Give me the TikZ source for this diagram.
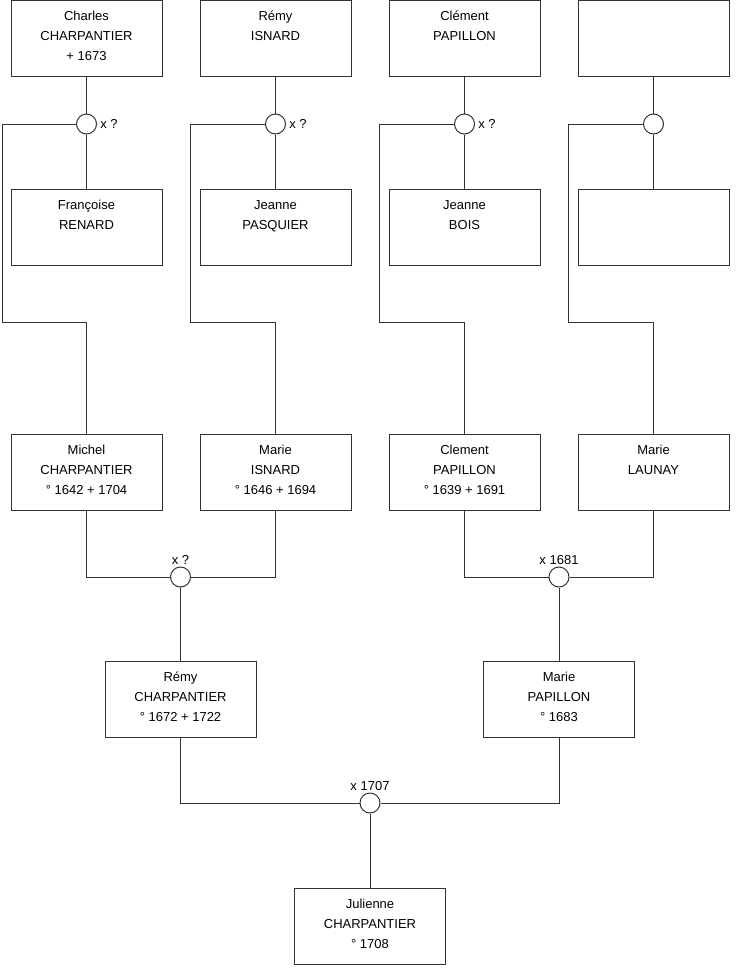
\documentclass[tikz,border=0pt]{standalone}
\usepackage{fontspec}
\setmainfont{Liberation Sans}
\usetikzlibrary{calc, positioning}

\begin{document}
\begin{tikzpicture}[x=0.75pt, y=-0.75pt,
  every node/.style={font=\fontsize{9.75pt}{15pt}\selectfont},
  indiv/.style={draw=black!80, line width=0.75pt, fill=white, inner sep=0pt,
    minimum width=113.25pt, minimum height=57pt},
  indivtxt/.style={anchor=base, inner sep=0pt},
  wed/.style={draw=black!80, line width=0.75pt, circle, fill=white, inner sep=0pt, minimum size=15pt},
  wedtxt/.style={inner sep=0pt},
  lien/.style={draw=black!80, line width=0.75pt}
]
\useasboundingbox (0,0) rectangle (740,975);
\def\ca{86.5} \def\cb{275.5} \def\cc{464.5} \def\cd{653.5}
% individus
\foreach \n/\x/\y/\t in {
  ch/\ca/38/{Charles\\CHARPANTIER\\+ 1673},
  ri/\cb/38/{Rémy\\ISNARD},
  cp/\cc/38/{Clément\\PAPILLON},
  fr/\ca/227/{Françoise\\RENARD},
  jp/\cb/227/{Jeanne\\PASQUIER},
  jb/\cc/227/{Jeanne\\BOIS},
  mc/\ca/472.5/{Michel\\CHARPANTIER\\° 1642 + 1704},
  mi/\cb/472.5/{Marie\\ISNARD\\° 1646 + 1694},
  clp/\cc/472.5/{Clement\\PAPILLON\\° 1639 + 1691},
  ml/\cd/472.5/{Marie\\LAUNAY},
  rc/180.5/699.5/{Rémy\\CHARPANTIER\\° 1672 + 1722},
  mp/559/699.5/{Marie\\PAPILLON\\° 1683},
  jc/370/926/{Julienne\\CHARPANTIER\\° 1708}}{
  \node[indiv] (\n) at (\x,\y) {};
  \node[indivtxt] (\n-t) at ($(\n.north)+(0,20.5)$)
    {\begin{tabular}[t]{@{}c@{}}\t\end{tabular}};
}
\node[indiv] (e1) at (\cd,38) {};
\node[indiv] (e2) at (\cd,227) {};
% unions
\node[wed] (w1) at (\ca,124) {};
\node[wed] (w2) at (\cb,124) {};
\node[wed] (w3) at (\cc,124) {};
\node[wed] (w4) at (\cd,124) {};
\node[wed] (w5) at (180.5,577) {};
\node[wed] (w6) at (559,577) {};
\node[wed] (w7) at (370,803) {};
\node[wedtxt, right=2.25pt of w1] (w1-t) {x ?};
\node[wedtxt, right=2.25pt of w2] (w2-t) {x ?};
\node[wedtxt, right=2.25pt of w3] (w3-t) {x ?};
\node[wedtxt, above=1.5pt of w5] (w5-t) {x ?};
\node[wedtxt, above=1.5pt of w6] (w6-t) {x 1681};
\node[wedtxt, above=1.5pt of w7] (w7-t) {x 1707};
% liens
\foreach \p/\w/\f in {ch/w1/fr, ri/w2/jp, cp/w3/jb, e1/w4/e2}{
  \draw[lien] (\p) -- (\w) -- (\f);
}
\foreach \w/\c/\x in {w1/mc/2, w2/mi/190, w3/clp/379, w4/ml/568}{
  \draw[lien] (\w.west) -| (\x,322) -| (\c.north);
}
\draw[lien] (mc.south) |- (w5.west);
\draw[lien] (mi.south) |- (w5.east);
\draw[lien] (w5) -- (rc);
\draw[lien] (clp.south) |- (w6.west);
\draw[lien] (ml.south) |- (w6.east);
\draw[lien] (w6) -- (mp);
\draw[lien] (rc.south) |- (w7.west);
\draw[lien] (mp.south) |- (w7.east);
\draw[lien] (w7) -- (jc);
\end{tikzpicture}
\end{document}
